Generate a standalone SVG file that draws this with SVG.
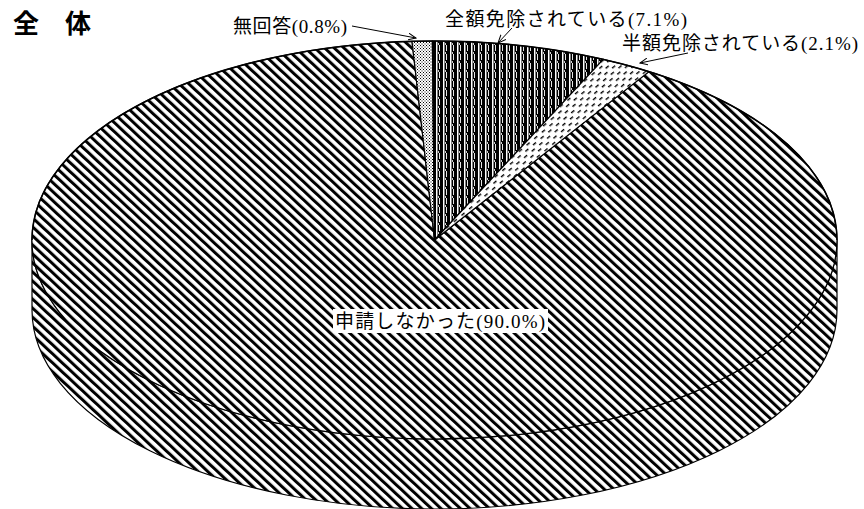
<svg xmlns="http://www.w3.org/2000/svg" width="864" height="509" viewBox="0 0 864 509">
<style>
.lbl{font-family:"Liberation Serif","Noto Sans CJK JP",serif;font-size:19px;fill:#000}
.title{font-family:"Noto Sans CJK JP",sans-serif;font-size:26px;font-weight:700;fill:#000}
.edge{stroke:#000;stroke-width:1.2;stroke-linejoin:round}
.lead{stroke:#000;stroke-width:1;fill:none}
</style>
<defs>
<pattern id="hatch" patternUnits="userSpaceOnUse" width="6.6" height="10" patternTransform="rotate(-47)">
<rect width="6.6" height="10" fill="#fff"/><rect width="3" height="10" fill="#000"/>
</pattern>
<pattern id="vert" patternUnits="userSpaceOnUse" width="7" height="9">
<rect width="7" height="9" fill="#000"/><rect x="2" width="1.5" height="9" fill="#fff"/><rect x="5" width="0.9" height="6" fill="#fff"/><rect x="4.2" y="7" width="0.8" height="2" fill="#fff"/>
</pattern>
<pattern id="dots" patternUnits="userSpaceOnUse" width="3" height="3">
<rect width="3" height="3" fill="#fff"/><rect width="1" height="1" fill="#000"/><rect x="1.5" y="1.5" width="1" height="1" fill="#000"/>
</pattern>
<pattern id="dash" patternUnits="userSpaceOnUse" width="10" height="8" patternTransform="rotate(-40)">
<rect width="10" height="8" fill="#fff"/><rect x="0" y="1" width="4" height="1.4" fill="#000"/><rect x="5" y="5" width="4" height="1.4" fill="#000"/>
</pattern>
<marker id="arr" markerUnits="userSpaceOnUse" markerWidth="9" markerHeight="8" refX="8" refY="4" orient="auto">
<path d="M0,0.5 L8,4 L0,7.5" fill="none" stroke="#000" stroke-width="1"/>
</marker>
</defs>
<rect width="864" height="509" fill="#fff"/>
<text class="title" x="13" y="33">全　体</text>
<g id="slice-shinsei">
<path class="edge" d="M32,240 A402.5,199 0 0 0 837,240 L837,310 A402.5,199 0 0 1 32,310 Z" fill="url(#hatch)" stroke-width="1.5"/>
<path class="edge" d="M434.5,240 L648.98,71.61 A402.5,199 0 1 1 412,41.3 Z" fill="url(#hatch)"/>
</g>
<g id="slice-mukaitou">
<path class="edge" d="M434.5,240 L412,41.3 A402.5,199 0 0 1 432.39,41 Z" fill="url(#dots)" stroke-width="0.8"/>
</g>
<g id="slice-zengaku">
<path class="edge" d="M434.5,240 L432.39,41 A402.5,199 0 0 1 603.3,59.35 Z" fill="url(#vert)"/>
</g>
<g id="slice-hangaku">
<path class="edge" d="M434.5,240 L603.3,59.35 A402.5,199 0 0 1 648.98,71.61 Z" fill="url(#dash)" stroke-width="0.8"/>
</g>
<path d="M32,240 A402.5,199 0 0 1 837,240" fill="none" stroke="#000" stroke-width="1.5"/>
<g id="label-shinsei">
<rect x="333" y="309" width="215" height="24" fill="#fff"/>
<text class="lbl" x="335" y="328" textLength="210" lengthAdjust="spacing">申請しなかった(90.0%)</text>
</g>
<g id="label-mukaitou"><text class="lbl" x="233" y="33" textLength="114" lengthAdjust="spacing">無回答(0.8%)</text></g>
<g id="label-zengaku"><text class="lbl" x="445" y="25.5" textLength="242" lengthAdjust="spacing">全額免除されている(7.1%)</text></g>
<g id="label-hangaku"><text class="lbl" x="622" y="50" textLength="236" lengthAdjust="spacing">半額免除されている(2.1%)</text></g>
<g id="connectors">
<line class="lead" x1="352" y1="26" x2="416" y2="38" marker-end="url(#arr)"/>
<line class="lead" x1="512" y1="28" x2="498" y2="43" marker-end="url(#arr)"/>
<line class="lead" x1="688" y1="53" x2="640" y2="63" marker-end="url(#arr)"/>
</g>
</svg>
